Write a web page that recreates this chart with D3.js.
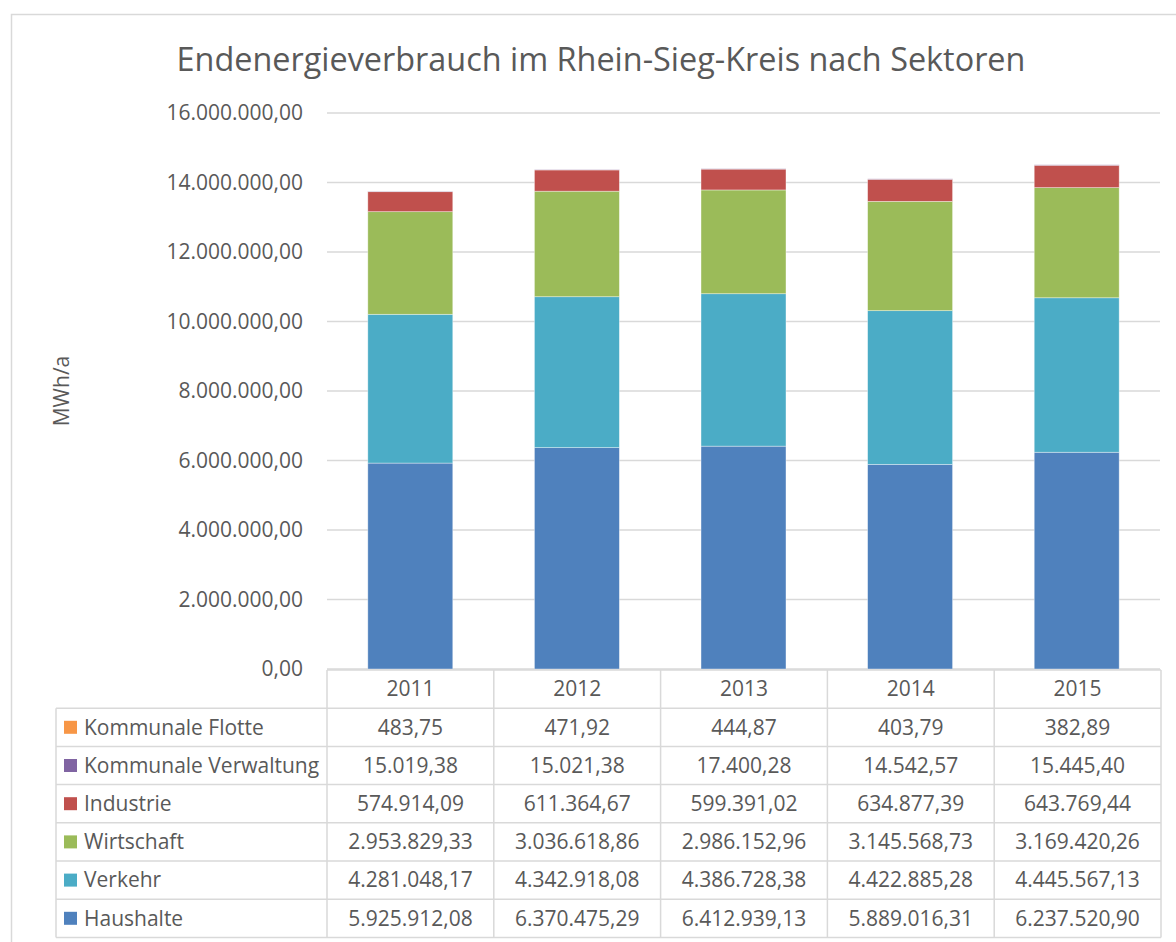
<!DOCTYPE html>
<html>
<head>
<meta charset="utf-8">
<script src="https://cdn.jsdelivr.net/npm/d3@7"></script>
<style>
  body { margin: 0; background: #fff; }
  svg { display: block; font-family: "Open Sans", sans-serif; }
  .tick text { fill: #595959; }
</style>
</head>
<body>
<div id="chart"></div>
<script>
const years = ["2011", "2012", "2013", "2014", "2015"];
const sectors = ["Haushalte", "Verkehr", "Wirtschaft", "Industrie", "Kommunale Verwaltung", "Kommunale Flotte"];
const haushalte = [5925912.08, 6370475.29, 6412939.13, 5889016.31, 6237520.90];
const verkehr = [4281048.17, 4342918.08, 4386728.38, 4422885.28, 4445567.13];
const wirtschaft = [2953829.33, 3036618.86, 2986152.96, 3145568.73, 3169420.26];
const industrie = [574914.09, 611364.67, 599391.02, 634877.39, 643769.44];
const verwaltung = [15019.38, 15021.38, 17400.28, 14542.57, 15445.40];
const flotte = [483.75, 471.92, 444.87, 403.79, 382.89];
const yTicks = [0, 2e6, 4e6, 6e6, 8e6, 10e6, 12e6, 14e6, 16e6];
const colors = ["#4f81bd", "#4bacc6", "#9bbb59", "#c0504d", "#8064a2", "#f79646"];

const series = [haushalte, verkehr, wirtschaft, industrie, verwaltung, flotte];
const rows = years.map((y, i) => {
  const r = { year: y };
  sectors.forEach((s, j) => (r[s] = series[j][i]));
  return r;
});

const de = d3.formatLocale({ decimal: ",", thousands: ".", grouping: [3], currency: ["", " €"] });
const fmt = de.format(",.2f");

const width = 1176, height = 942;
const plot = { left: 327, right: 1160, top: 113, bottom: 669 };
const rowH = 38.2;
const tableLeft = 56;
const grey = "#595959", line = "#d9d9d9";
const fs = "21px";

const svg = d3.select("#chart").append("svg")
  .attr("width", width).attr("height", height);

// chart frame (runs off the right and bottom edge)
svg.append("rect")
  .attr("x", 11.5).attr("y", 14.5)
  .attr("width", width + 20).attr("height", height + 20)
  .attr("fill", "none").attr("stroke", line).attr("stroke-width", 1.5);

svg.append("text")
  .attr("x", 601).attr("y", 71)
  .attr("text-anchor", "middle")
  .attr("fill", grey)
  .style("font-size", "32.4px")
  .text("Endenergieverbrauch im Rhein-Sieg-Kreis nach Sektoren");

const x = d3.scaleBand().domain(years).range([plot.left, plot.right]).paddingInner(0.49).paddingOuter(0.245);
const xCol = d3.scaleBand().domain(years).range([plot.left, plot.right + 1]);
const y = d3.scaleLinear().domain([0, 16e6]).range([plot.bottom, plot.top]);

svg.append("g")
  .selectAll("line")
  .data(yTicks)
  .join("line")
  .attr("x1", plot.left).attr("x2", plot.right)
  .attr("y1", (d) => y(d)).attr("y2", (d) => y(d))
  .attr("stroke", line).attr("stroke-width", 1.5);

const yAxis = svg.append("g")
  .attr("transform", `translate(${plot.left},0)`)
  .call(d3.axisLeft(y).tickValues(yTicks).tickFormat(fmt).tickSize(0).tickPadding(24));
yAxis.select(".domain").remove();
yAxis.selectAll("text").style("font-size", fs).attr("font-family", "Open Sans");

svg.append("text")
  .attr("transform", `translate(69,${(plot.top + plot.bottom) / 2}) rotate(-90)`)
  .attr("text-anchor", "middle")
  .attr("fill", grey)
  .style("font-size", fs)
  .text("MWh/a");

const stack = d3.stack().keys(sectors)(rows);

svg.append("g")
  .selectAll("g")
  .data(stack)
  .join("g")
  .attr("fill", (d, i) => colors[i])
  .selectAll("rect")
  .data((d) => d)
  .join("rect")
  .attr("x", (d) => x(d.data.year))
  .attr("width", x.bandwidth())
  .attr("y", (d) => y(d[1]))
  .attr("height", (d) => y(d[0]) - y(d[1]))
  .attr("stroke", "#fff").attr("stroke-opacity", 0.5).attr("stroke-width", 0.75);

// data table
const table = svg.append("g");
const tableTop = plot.bottom + 1;
const tableRows = sectors.slice().reverse();

// header row
table.selectAll(".hdr")
  .data(years)
  .join("text")
  .attr("class", "hdr")
  .attr("x", (d) => xCol(d) + xCol.bandwidth() / 2)
  .attr("y", tableTop + rowH / 2)
  .attr("dy", "0.35em")
  .attr("text-anchor", "middle")
  .attr("fill", grey)
  .style("font-size", fs)
  .text((d) => d);

const body = table.selectAll(".row")
  .data(tableRows)
  .join("g")
  .attr("class", "row")
  .attr("transform", (d, i) => `translate(0,${tableTop + rowH * (i + 1)})`);

body.append("rect")
  .attr("x", 64).attr("y", rowH / 2 - 6.5)
  .attr("width", 13).attr("height", 13)
  .attr("fill", (d) => colors[sectors.indexOf(d)]);

body.append("text")
  .attr("x", 84).attr("y", rowH / 2)
  .attr("dy", "0.35em")
  .attr("fill", grey)
  .style("font-size", fs)
  .text((d) => d);

body.selectAll(".val")
  .data((d) => years.map((yr, i) => ({ v: series[sectors.indexOf(d)][i], yr })))
  .join("text")
  .attr("class", "val")
  .attr("x", (d) => xCol(d.yr) + xCol.bandwidth() / 2)
  .attr("y", rowH / 2)
  .attr("dy", "0.35em")
  .attr("text-anchor", "middle")
  .attr("fill", grey)
  .style("font-size", fs)
  .text((d) => fmt(d.v));

// grid lines of the table
const gl = table.append("g").attr("stroke", line).attr("stroke-width", 1.5);
const tableBottom = tableTop + rowH * 7;
gl.append("line").attr("x1", plot.left).attr("x2", plot.right + 1).attr("y1", tableTop).attr("y2", tableTop);
d3.range(1, 8).forEach((i) => {
  gl.append("line")
    .attr("x1", tableLeft).attr("x2", plot.right + 1)
    .attr("y1", tableTop + rowH * i).attr("y2", tableTop + rowH * i);
});
gl.append("line").attr("x1", tableLeft).attr("x2", tableLeft).attr("y1", tableTop + rowH).attr("y2", tableBottom);
years.concat(["end"]).forEach((yr, i) => {
  const xx = i < years.length ? xCol(yr) : plot.right + 1;
  gl.append("line").attr("x1", xx).attr("x2", xx).attr("y1", tableTop).attr("y2", tableBottom);
});
</script>
</body>
</html>
